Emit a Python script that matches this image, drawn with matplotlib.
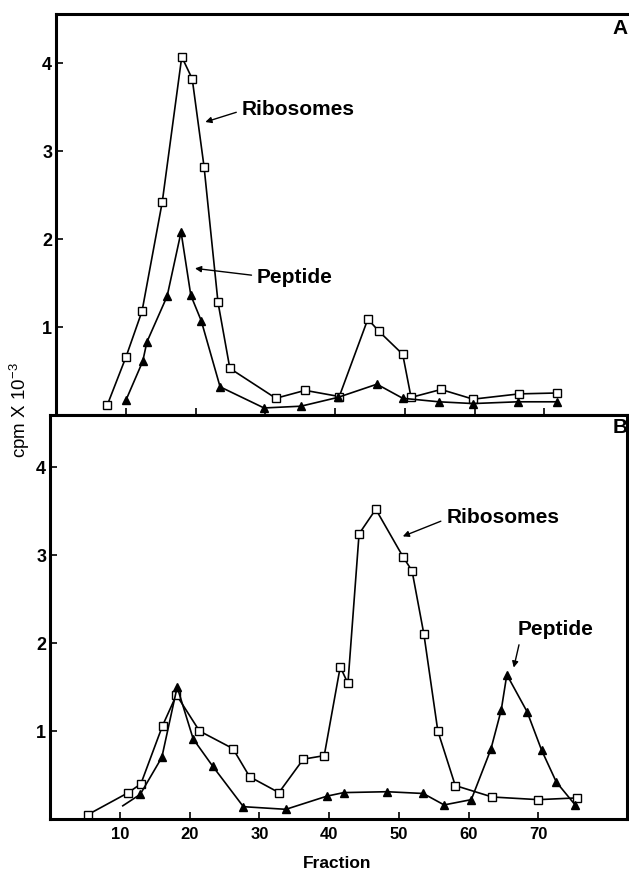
import numpy as np
import matplotlib
matplotlib.use("Agg")
import matplotlib.pyplot as plt

plt.rcParams["font.family"] = ["Liberation Sans", "DejaVu Sans"]
plt.rcParams["mathtext.fontset"] = "custom"
plt.rcParams["mathtext.rm"] = "Liberation Sans"
plt.rcParams["mathtext.it"] = "Liberation Sans:italic"

# ---- panel A data (fraction, cpm x 10^-3) ----
a_ribo_frac = [7.3, 10.0, 12.3, 15.2, 18.0, 19.5, 21.2, 23.2, 24.9, 31.5, 35.7,
               40.6, 44.7, 46.3, 49.7, 50.9, 55.2, 59.8, 66.4, 71.8]
a_ribo_cpm = [0.11, 0.66, 1.18, 2.42, 4.07, 3.82, 2.82, 1.28, 0.53, 0.19, 0.28,
              0.21, 1.09, 0.95, 0.69, 0.20, 0.29, 0.18, 0.24, 0.25]
a_pep_frac = [10.0, 12.4, 13.0, 15.9, 17.9, 19.3, 20.8, 23.5, 29.8, 35.1,
              40.4, 46.0, 49.7, 54.9, 59.8, 66.2, 71.8]
a_pep_cpm = [0.17, 0.61, 0.83, 1.35, 2.08, 1.36, 1.07, 0.32, 0.08, 0.10,
             0.20, 0.35, 0.19, 0.15, 0.13, 0.15, 0.15]

# ---- panel B data ----
b_ribo_frac = [5.4, 11.2, 13.0, 16.1, 18.1, 21.4, 26.2, 28.6, 32.8, 36.3, 39.3,
               41.6, 42.7, 44.3, 46.7, 50.6, 51.9, 53.6, 55.6, 58.1, 63.4,
               70.0, 75.6]
b_ribo_cpm = [0.05, 0.30, 0.40, 1.06, 1.41, 1.00, 0.80, 0.48, 0.30, 0.68, 0.72,
              1.73, 1.54, 3.24, 3.52, 2.98, 2.82, 2.10, 1.00, 0.38, 0.25,
              0.22, 0.24]
# first point is where the drawn curve starts (no symbol there)
b_pep_frac = [10.4, 12.9, 16.0, 18.2, 20.5, 23.3, 27.7, 33.8, 39.7, 42.1, 48.3,
              53.5, 56.5, 60.4, 63.2, 64.7, 65.5, 68.4, 70.5, 72.6, 75.3]
b_pep_cpm = [0.15, 0.28, 0.70, 1.50, 0.91, 0.60, 0.14, 0.11, 0.26, 0.30, 0.31,
             0.29, 0.16, 0.22, 0.79, 1.24, 1.64, 1.22, 0.78, 0.42, 0.16]

xticks = [10, 20, 30, 40, 50, 60, 70]
yticks = [1, 2, 3, 4]

W, H = 629, 873
fig = plt.figure(figsize=(W / 100, H / 100), dpi=100)

ppu = 6.97  # pixels per fraction
# top panel runs off the right edge of the page
axA = fig.add_axes([56.3 / W, 1 - 415 / H, 600 / W, 401 / H])
axB = fig.add_axes([50.3 / W, 1 - 819 / H, 576.7 / W, 404 / H])
axA.set_xlim(0, 600 / ppu)
axB.set_xlim(0, 576.7 / ppu)
axA.set_ylim(0, 401 / 88)
axB.set_ylim(0, 404 / 88)

line_kw = dict(color="black", lw=1.2)
sq_kw = dict(marker="s", ms=5.2, mfc="white", mec="black", mew=1.0)
tri_kw = dict(marker="^", ms=5.5, mfc="black", mec="black")

axA.plot(a_ribo_frac, a_ribo_cpm, **line_kw, **sq_kw)
axA.plot(a_pep_frac, a_pep_cpm, **line_kw, **tri_kw)
axB.plot(b_ribo_frac, b_ribo_cpm, **line_kw, **sq_kw)
axB.plot(b_pep_frac, b_pep_cpm, markevery=list(range(1, len(b_pep_frac))),
         **line_kw, **tri_kw)

for ax in (axA, axB):
    for s in ax.spines.values():
        s.set_linewidth(2.2)
    ax.set_xticks(xticks)
    ax.set_yticks(yticks)
    ax.set_yticklabels([str(v) for v in yticks], fontsize=13, fontweight="bold")
    ax.tick_params(direction="in", length=5, width=1.2, pad=3)

axA.set_xticklabels([])
axB.set_xticklabels([str(v) for v in xticks], fontsize=12, fontweight="bold")
axB.tick_params(axis="x", pad=6)

arrow = dict(arrowstyle="-|>", color="black", lw=1.0, mutation_scale=9,
             shrinkA=2, shrinkB=2)
txt_kw = dict(fontsize=15, fontweight="bold", ha="left", va="center")

axA.annotate("Ribosomes", xy=(21.0, 3.32), xytext=(26.6, 3.47),
             arrowprops=dict(arrow, relpos=(0, 0.45)), **txt_kw)
axA.annotate("Peptide", xy=(19.5, 1.67), xytext=(28.8, 1.56),
             arrowprops=dict(arrow, relpos=(0, 0.6)), **txt_kw)
axB.annotate("Ribosomes", xy=(50.2, 3.2), xytext=(56.8, 3.43),
             arrowprops=dict(arrow, relpos=(0, 0.4)), **txt_kw)
axB.annotate("Peptide", xy=(66.4, 1.69), xytext=(67.1, 2.15),
             arrowprops=dict(arrow, relpos=(0.03, 0.0)), **txt_kw)

fig.text(612 / W, 1 - 29 / H, "A", fontsize=15, fontweight="bold",
         ha="left", va="center")
fig.text(613 / W, 1 - 427 / H, "B", fontsize=15, fontweight="bold",
         ha="left", va="center")
fig.text(20 / W, 1 - 410 / H, r"cpm X 10$^{-3}$", rotation=90, fontsize=13.5,
         ha="center", va="center")
fig.text(337 / W, 1 - 863 / H, "Fraction", fontsize=12.5, fontweight="bold",
         ha="center", va="center")

fig.savefig("out.png", dpi=100)
